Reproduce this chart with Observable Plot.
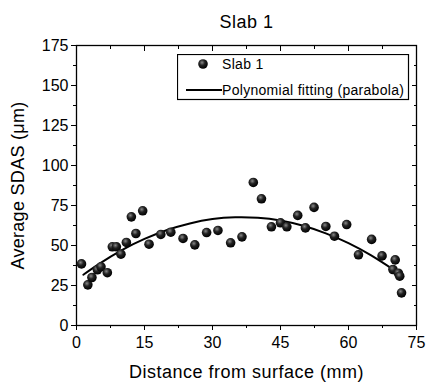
<!DOCTYPE html>
<html><head><meta charset="utf-8">
<script src="https://cdn.jsdelivr.net/npm/d3@7"></script>
<script src="https://cdn.jsdelivr.net/npm/@observablehq/plot@0.6"></script>
<style>
body{margin:0;background:#fff;}
svg{display:block;}
#wrap{position:relative;width:431px;height:390px;}
#legend{position:absolute;left:177px;top:54px;}
</style>
</head><body><div id="wrap"><div id="chart"></div><div id="legend"></div></div>
<script>
const distance = [1.1,2.5,3.4,4.6,5.4,6.8,7.9,8.8,9.8,11.0,12.1,13.1,14.6,16.0,18.6,20.8,23.5,26.1,28.7,31.2,34.0,36.5,39.0,40.8,43.0,45.0,46.4,48.8,50.5,52.4,55.0,56.9,59.6,62.2,65.1,67.4,69.8,70.3,71.0,71.3,71.7];
const sdas = [38.5,25.4,30,34.8,36.7,33,49.2,49.2,44.6,51.9,67.9,57.5,71.7,50.8,56.9,58.3,54.4,50.4,58.1,59.4,51.7,55.4,89.4,79.2,61.7,64.2,61.7,68.8,61,73.8,61.9,55.8,63.1,44.2,53.8,43.5,35,41,32.7,30.8,20.4];
const fitX = [1.5,5,10,15,20,25,30,35,40,45,50,55,60,65,70,71.5];
const fitY = [31.7,38.5,47.1,54.1,59.7,63.8,66.5,67.6,67.3,65.6,62.3,57.6,51.5,43.8,34.7,31.7];
const xTicks = [0,15,30,45,60,75];
const xMinor = [7.5,22.5,37.5,52.5,67.5];
const yTicks = [0,25,50,75,100,125,150,175];
const yMinor = [12.5,37.5,62.5,87.5,112.5,137.5,162.5];
const title = "Slab 1";
const xLabel = "Distance from surface (mm)";
const yLabel = "Average SDAS (\u03bcm)";
const seriesName = "Slab 1";
const fitName = "Polynomial fitting (parabola)";

const points = distance.map((d,i)=>({x:d,y:sdas[i]}));
const fit = fitX.map((d,i)=>({x:d,y:fitY[i]}));
const FONT = "Arial, 'Liberation Sans', sans-serif";

function ballDefs(sel){
  const g = sel.append("defs").append("radialGradient").attr("id","ball").attr("cx","40%").attr("cy","35%").attr("r","65%");
  g.append("stop").attr("offset","0%").attr("stop-color","#888");
  g.append("stop").attr("offset","45%").attr("stop-color","#222");
  g.append("stop").attr("offset","100%").attr("stop-color","#000");
}

const chart = Plot.plot({
  width: 431, height: 390,
  marginLeft: 76, marginRight: 15, marginTop: 45, marginBottom: 65,
  style: {fontFamily: FONT, fontSize: "16px", color: "#000", background: "#fff"},
  x: {domain: [0,75]},
  y: {domain: [0,175]},
  marks: [
    Plot.frame({stroke: "#000", strokeWidth: 1.3}),
    Plot.axisX({ticks: xTicks, tickSize: 5, tickPadding: 6, fontSize: 16, label: null}),
    Plot.axisX({ticks: xMinor, tickSize: 3, tickFormat: () => "", label: null}),
    Plot.axisX({anchor: "top", ticks: xTicks, tickSize: -5, tickFormat: () => "", label: null}),
    Plot.axisX({anchor: "top", ticks: xMinor, tickSize: -3, tickFormat: () => "", label: null}),
    Plot.axisY({ticks: yTicks, tickSize: 5, tickPadding: 3, fontSize: 16, label: null}),
    Plot.axisY({ticks: yMinor, tickSize: 3, tickFormat: () => "", label: null}),
    Plot.axisY({anchor: "right", ticks: yTicks, tickSize: -5, tickFormat: () => "", label: null}),
    Plot.axisY({anchor: "right", ticks: yMinor, tickSize: -3, tickFormat: () => "", label: null}),
    Plot.text([xLabel], {frameAnchor: "bottom", dy: 47, fontSize: 18, text: d => d, lineAnchor: "middle"}),
    Plot.text([yLabel], {frameAnchor: "left", dx: -58, rotate: -90, fontSize: 18, text: d => d, textAnchor: "middle", lineAnchor: "middle"}),
    Plot.line(fit, {x: "x", y: "y", curve: "natural", stroke: "#000", strokeWidth: 2}),
    Plot.dot(points, {x: "x", y: "y", r: 4.8, fill: "url(#ball)", stroke: "none"}),
    Plot.text([title], {frameAnchor: "top", dy: -23, fontSize: 18, text: d => d, lineAnchor: "middle"})
  ]
});
ballDefs(d3.select(chart));
d3.select(chart).selectAll("text").filter(function(){return this.textContent===xLabel || this.textContent===title;}).style("letter-spacing","0.5px");
d3.select(chart).selectAll("text").filter(function(){return this.textContent===yLabel;}).style("letter-spacing","0.3px");
document.getElementById("chart").appendChild(chart);

// legend
const lg = d3.select("#legend").append("svg").attr("width", 233).attr("height", 47).style("font-family", FONT).style("font-size","14px").style("letter-spacing","0.3px");
lg.append("rect").attr("x",0.5).attr("y",0.5).attr("width",231).attr("height",45).attr("fill","#fff").attr("stroke","#000").attr("stroke-width",1.2);
lg.append("circle").attr("cx",26).attr("cy",10).attr("r",4.8).attr("fill","url(#ball)");
lg.append("text").attr("x",45).attr("y",10).attr("dy","0.35em").text(seriesName);
lg.append("line").attr("x1",9).attr("x2",45).attr("y1",36).attr("y2",36).attr("stroke","#000").attr("stroke-width",2);
lg.append("text").attr("x",45).attr("y",36).attr("dy","0.35em").text(fitName);
</script></body></html>
